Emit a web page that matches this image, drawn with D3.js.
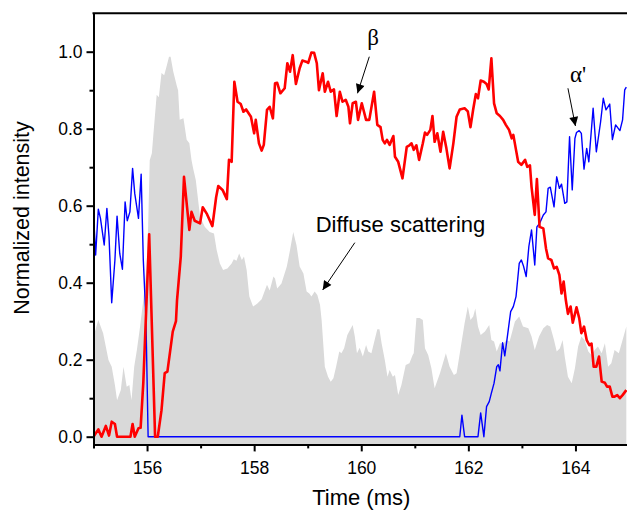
<!DOCTYPE html>
<html><head><meta charset="utf-8">
<script src="https://cdn.jsdelivr.net/npm/d3@7"></script>
<style>
html,body{margin:0;padding:0;background:#fff;}
svg text{font-family:"Liberation Sans",Arial,sans-serif;fill:#000;}
</style></head>
<body><svg id="c" width="627" height="512"></svg>
<script>
// ---- data ----
const redT = [155.00,155.09,155.15,155.23,155.29,155.34,155.40,155.44,155.69,155.73,155.77,155.84,155.88,155.93,156.04,156.15,156.20,156.27,156.33,156.38,156.48,156.54,156.56,156.63,156.69,156.79,156.83,156.89,156.99,157.04,157.12,157.22,157.29,157.33,157.41,157.49,157.53,157.58,157.63,157.69,157.75,157.80,157.85,157.94,158.00,158.03,158.09,158.14,158.18,158.24,158.29,158.35,158.39,158.43,158.49,158.57,158.62,158.67,158.72,158.78,158.85,158.90,158.97,159.01,159.07,159.12,159.17,159.21,159.28,159.32,159.38,159.43,159.49,159.54,159.60,159.65,159.71,159.76,159.79,159.84,159.90,159.94,160.01,160.09,160.15,160.24,160.30,160.36,160.40,160.44,160.48,160.53,160.60,160.63,160.69,160.77,160.85,160.90,160.94,160.98,161.03,161.08,161.15,161.19,161.23,161.29,161.33,161.37,161.42,161.48,161.53,161.59,161.65,161.72,161.78,161.84,161.93,161.99,162.04,162.09,162.14,162.18,162.23,162.29,162.34,162.38,162.43,162.48,162.53,162.59,162.65,162.70,162.76,162.81,162.84,162.89,162.93,162.99,163.06,163.10,163.15,163.18,163.24,163.28,163.33,163.40,163.45,163.49,163.55,163.60,163.65,163.70,163.74,163.78,163.82,163.86,163.91,163.95,164.02,164.07,164.11,164.16,164.21,164.26,164.30,164.34,164.39,164.44,164.49,164.55,164.59,164.64,164.69,164.73,164.78,164.83,164.88,164.95];
const redV = [0.000,0.019,0.000,0.028,0.003,0.039,0.033,0.000,0.000,0.033,0.000,0.022,0.023,0.140,0.526,0.000,0.000,0.069,0.165,0.169,0.273,0.300,0.355,0.468,0.675,0.537,0.584,0.561,0.554,0.596,0.578,0.547,0.622,0.651,0.641,0.617,0.719,0.714,0.922,0.870,0.864,0.844,0.850,0.831,0.788,0.823,0.762,0.743,0.758,0.849,0.857,0.827,0.918,0.919,0.892,0.905,0.970,0.948,0.991,0.916,0.957,0.977,0.974,0.971,0.998,0.997,0.970,0.900,0.944,0.896,0.922,0.896,0.902,0.833,0.896,0.870,0.875,0.857,0.814,0.866,0.870,0.823,0.866,0.823,0.823,0.896,0.810,0.804,0.771,0.762,0.771,0.758,0.781,0.727,0.714,0.671,0.753,0.757,0.762,0.745,0.757,0.719,0.762,0.790,0.784,0.797,0.833,0.766,0.788,0.740,0.792,0.749,0.697,0.762,0.831,0.850,0.853,0.845,0.804,0.850,0.890,0.879,0.925,0.922,0.916,0.902,0.983,0.866,0.840,0.833,0.823,0.810,0.797,0.775,0.784,0.745,0.714,0.706,0.719,0.701,0.705,0.649,0.576,0.669,0.545,0.541,0.489,0.463,0.459,0.437,0.441,0.420,0.372,0.403,0.355,0.319,0.338,0.296,0.336,0.308,0.269,0.286,0.251,0.238,0.242,0.182,0.182,0.208,0.143,0.140,0.130,0.130,0.104,0.104,0.108,0.100,0.108,0.121];

const blueT = [155.00,155.04,155.09,155.13,155.20,155.25,155.29,155.34,155.40,155.44,155.49,155.54,155.59,155.63,155.68,155.73,155.77,155.84,155.89,155.93,155.98,156.02,161.84,161.88,161.93,162.18,162.23,162.29,162.34,162.39,162.43,162.48,162.53,162.56,162.59,162.64,162.68,162.72,162.79,162.84,162.89,162.95,162.99,163.03,163.08,163.13,163.18,163.24,163.28,163.33,163.40,163.45,163.49,163.53,163.60,163.65,163.70,163.74,163.80,163.84,163.89,163.94,163.99,164.02,164.07,164.11,164.16,164.21,164.25,164.33,164.39,164.47,164.52,164.57,164.64,164.69,164.75,164.83,164.88,164.92,164.95];
const blueV = [0.580,0.472,0.591,0.567,0.498,0.593,0.519,0.348,0.459,0.573,0.476,0.435,0.610,0.561,0.584,0.697,0.632,0.567,0.682,0.459,0.303,0.000,0.000,0.056,0.000,0.000,0.062,0.000,0.078,0.091,0.113,0.139,0.182,0.187,0.171,0.244,0.210,0.251,0.325,0.338,0.364,0.450,0.459,0.443,0.416,0.494,0.537,0.446,0.545,0.554,0.576,0.584,0.645,0.648,0.597,0.675,0.645,0.656,0.606,0.610,0.779,0.641,0.775,0.790,0.795,0.788,0.695,0.749,0.714,0.853,0.740,0.818,0.879,0.849,0.864,0.772,0.810,0.795,0.823,0.901,0.908];

const greyT = [155.00,155.09,155.18,155.28,155.34,155.40,155.44,155.51,155.56,155.62,155.67,155.71,155.76,155.81,155.87,155.93,155.99,156.02,156.05,156.09,156.12,156.18,156.22,156.27,156.32,156.37,156.41,156.44,156.49,156.56,156.58,156.61,156.68,156.74,156.79,156.83,156.86,156.91,156.99,157.08,157.17,157.25,157.30,157.36,157.42,157.50,157.58,157.62,157.67,157.72,157.77,157.81,157.86,157.91,157.98,158.06,158.14,158.20,158.24,158.29,158.36,158.39,158.43,158.51,158.61,158.67,158.73,158.79,158.85,158.92,158.98,159.03,159.07,159.13,159.18,159.23,159.26,159.32,159.38,159.43,159.48,159.53,159.59,159.63,159.68,159.74,159.84,159.88,159.92,159.97,160.03,160.09,160.13,160.19,160.25,160.30,160.34,160.38,160.44,160.49,160.53,160.59,160.63,160.69,160.75,160.83,160.90,160.96,160.98,161.03,161.09,161.15,161.19,161.25,161.31,161.37,161.47,161.58,161.65,161.73,161.78,161.85,161.93,161.99,162.04,162.09,162.13,162.18,162.23,162.31,162.39,162.43,162.48,162.53,162.59,162.66,162.71,162.77,162.87,162.95,163.02,163.12,163.18,163.24,163.32,163.40,163.47,163.53,163.60,163.65,163.71,163.76,163.80,163.86,163.93,163.99,164.05,164.11,164.17,164.24,164.30,164.36,164.42,164.49,164.55,164.61,164.67,164.73,164.81,164.88,164.95];
const greyV = [0.260,0.303,0.269,0.199,0.182,0.134,0.095,0.121,0.182,0.130,0.134,0.095,0.182,0.225,0.286,0.355,0.440,0.545,0.718,0.736,0.788,0.888,0.882,0.945,0.939,0.965,0.987,0.987,0.948,0.909,0.900,0.823,0.827,0.771,0.762,0.719,0.697,0.667,0.571,0.545,0.532,0.528,0.485,0.450,0.433,0.437,0.450,0.461,0.457,0.476,0.459,0.468,0.433,0.364,0.338,0.346,0.357,0.380,0.395,0.380,0.416,0.411,0.385,0.398,0.442,0.485,0.532,0.498,0.442,0.424,0.377,0.372,0.364,0.377,0.368,0.343,0.303,0.182,0.156,0.143,0.152,0.182,0.221,0.217,0.230,0.264,0.290,0.260,0.217,0.231,0.208,0.238,0.221,0.217,0.251,0.279,0.279,0.243,0.199,0.156,0.173,0.156,0.160,0.108,0.134,0.186,0.191,0.212,0.217,0.308,0.308,0.303,0.230,0.212,0.178,0.126,0.165,0.217,0.182,0.160,0.165,0.225,0.295,0.338,0.303,0.312,0.333,0.286,0.264,0.273,0.290,0.251,0.247,0.221,0.243,0.243,0.251,0.247,0.299,0.312,0.286,0.282,0.260,0.225,0.260,0.282,0.290,0.286,0.251,0.221,0.230,0.251,0.208,0.156,0.139,0.178,0.234,0.260,0.251,0.221,0.212,0.225,0.234,0.217,0.243,0.182,0.191,0.225,0.217,0.251,0.286];

const xMajor = [156,158,160,162,164];
const xMinor = [155,157,159,161,163,165];
const yMajor = [0.0,0.2,0.4,0.6,0.8,1.0];
const yMinor = [0.1,0.3,0.5,0.7,0.9];
const labels = {x:"Time (ms)", y:"Normalized intensity"};
// annotations
const annTexts = ["β","α'","Diffuse scattering"];
const annTextT = [160.22,164.05,159.15];
const annTextV = [1.017,0.922,0.532];
const annFromT = [160.15,163.86,159.88];
const annFromV = [0.987,0.905,0.504];
const annToT   = [159.93,164.00,159.28];
const annToV   = [0.892,0.807,0.381];

// ---- chart ----
const svg = d3.select("#c");
const L = 93.5, R = 629, T = 13.2, B = 444.4;
const x = d3.scaleLinear().domain([155,165]).range([L,R]);
const y = d3.scaleLinear().domain([-0.02,1.1]).range([B,T]);

svg.append("defs").append("clipPath").attr("id","clip")
  .append("rect").attr("x",L).attr("y",T).attr("width",R-L).attr("height",B-T);
svg.select("defs").append("marker").attr("id","arr")
  .attr("viewBox","0 0 10 10").attr("refX",10).attr("refY",5)
  .attr("markerWidth",11).attr("markerHeight",9).attr("markerUnits","userSpaceOnUse")
  .attr("orient","auto")
  .append("path").attr("d","M0,0 L10,5 L0,10 Z").attr("fill","#000");

const plot = svg.append("g").attr("clip-path","url(#clip)");
const grey = greyT.map((t,i)=>[t,greyV[i]]);
const red = redT.map((t,i)=>[t,redV[i]]);
const blue = blueT.map((t,i)=>[t,blueV[i]]);

plot.append("path").datum(grey)
  .attr("d", d3.area().x(d=>x(d[0])).y0(B).y1(d=>y(d[1])))
  .attr("fill","#d9d9d9");
plot.append("path").datum(blue)
  .attr("d", d3.line().x(d=>x(d[0])).y(d=>y(d[1])))
  .attr("fill","none").attr("stroke","#0000ff").attr("stroke-width",1.4).attr("stroke-linejoin","round");
plot.append("path").datum(red)
  .attr("d", d3.line().x(d=>x(d[0])).y(d=>y(d[1])))
  .attr("fill","none").attr("stroke","#ff0000").attr("stroke-width",2.6).attr("stroke-linejoin","round");

// axes
function styleAxis(g){
  g.selectAll(".domain").attr("stroke","#000").attr("stroke-width",2);
  g.selectAll(".tick line").attr("stroke","#000").attr("stroke-width",2);
  g.selectAll(".tick text").attr("font-size","17.5px").attr("fill","#000")
    .attr("font-family","'Liberation Sans',Arial,sans-serif");
}
const gx = svg.append("g").attr("transform",`translate(0,${B})`)
  .call(d3.axisBottom(x).tickValues(xMajor).tickFormat(d3.format("d")).tickSize(7).tickSizeOuter(0).tickPadding(10));
styleAxis(gx);
const gxm = svg.append("g").attr("transform",`translate(0,${B})`)
  .call(d3.axisBottom(x).tickValues(xMinor).tickFormat("").tickSize(4).tickSizeOuter(0));
styleAxis(gxm);
const gy = svg.append("g").attr("transform",`translate(${L},0)`)
  .call(d3.axisLeft(y).tickValues(yMajor).tickFormat(d3.format(".1f")).tickSize(7).tickSizeOuter(0).tickPadding(4));
styleAxis(gy);
const gym = svg.append("g").attr("transform",`translate(${L},0)`)
  .call(d3.axisLeft(y).tickValues(yMinor).tickFormat("").tickSize(4).tickSizeOuter(0));
styleAxis(gym);
// top frame
svg.append("line").attr("x1",L-1).attr("x2",R).attr("y1",T).attr("y2",T)
  .attr("stroke","#000").attr("stroke-width",2);

// titles
svg.append("text").attr("x",(L+R)/2).attr("y",505).attr("text-anchor","middle")
  .attr("font-size","22px").text(labels.x);
svg.append("text").attr("transform","translate(29,218) rotate(-90)").attr("text-anchor","middle")
  .attr("font-size","21.5px").text(labels.y);

// annotations
annTexts.forEach((s,i)=>{
  const serif = i<2;
  svg.append("text").attr("x",x(annTextT[i])).attr("y",y(annTextV[i]))
    .attr("text-anchor", serif ? "middle" : "start")
    .attr("font-size", serif ? "23px" : "22px")
    .style("font-family", serif ? "'Liberation Serif','DejaVu Serif',serif" : "'Liberation Sans',Arial,sans-serif")
    .text(s);
  svg.append("line").attr("x1",x(annFromT[i])).attr("y1",y(annFromV[i]))
    .attr("x2",x(annToT[i])).attr("y2",y(annToV[i]))
    .attr("stroke","#000").attr("stroke-width",1).attr("marker-end","url(#arr)");
});
</script></body></html>
